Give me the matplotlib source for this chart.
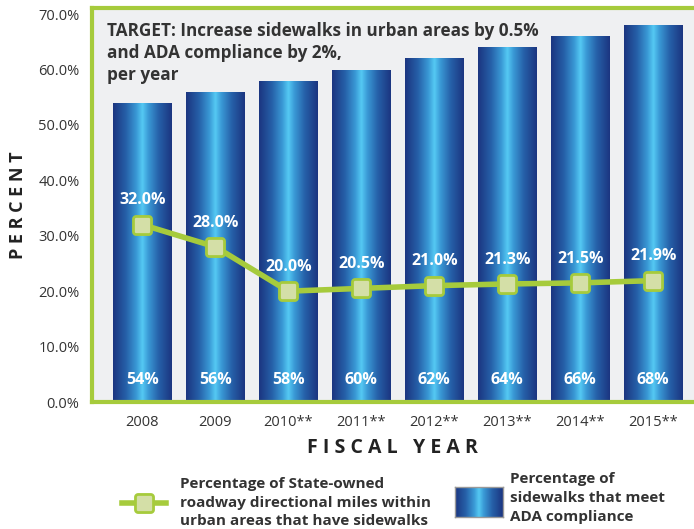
import numpy as np
import matplotlib.pyplot as plt
from matplotlib.colors import LinearSegmentedColormap
from matplotlib.lines import Line2D
from matplotlib.path import Path

# ---- data ----
years = ["2008", "2009", "2010**", "2011**", "2012**", "2013**", "2014**", "2015**"]
ada_compliance = [54, 56, 58, 60, 62, 64, 66, 68]
urban_sidewalks = [32.0, 28.0, 20.0, 20.5, 21.0, 21.3, 21.5, 21.9]
ytick_vals = [0, 10, 20, 30, 40, 50, 60, 70]
ytick_labels = ["0.0%", "10.0%", "20.0%", "30.0%", "40.0%", "50.0%", "60.0%", "70.0%"]

FONT = "Open Sans"
GREEN = "#A6CB3C"
TXT = "#333333"

cmap = LinearSegmentedColormap.from_list(
    "barg",
    [(0.0, "#1B3580"), (0.22, "#2660A8"), (0.40, "#3A9AD6"), (0.50, "#55C9F3"),
     (0.60, "#3A9AD6"), (0.78, "#2660A8"), (1.0, "#1B3580")])
grad = np.linspace(0, 1, 256).reshape(1, -1)

# rounded-square marker
def rounded_square(r=0.3, n=8):
    pts = []
    corners = [(1 - r, 1 - r, 0), (-1 + r, 1 - r, 90), (-1 + r, -1 + r, 180), (1 - r, -1 + r, 270)]
    for cx, cy, a0 in corners:
        for t in np.linspace(np.radians(a0), np.radians(a0 + 90), n):
            pts.append((cx + r * np.cos(t), cy + r * np.sin(t)))
    pts.append(pts[0])
    return Path(pts, closed=True)

RSQ = rounded_square()

W, H = 694, 529
fig = plt.figure(figsize=(W / 100, H / 100), dpi=100)
fig.patch.set_facecolor("white")

def fx(px):
    return px / W

def fy(py):
    return 1 - py / H

ax = fig.add_axes([fx(92), fy(402), fx(694 - 92), (402 - 8) / H])
ax.set_facecolor("#EFF0F2")

x = np.arange(len(years))
bars = ax.bar(x, ada_compliance, width=0.8, color="none", zorder=2)
for b in bars:
    x0, w, h = b.get_x(), b.get_width(), b.get_height()
    im = ax.imshow(grad, cmap=cmap, aspect="auto", extent=(x0, x0 + w, 0, h),
                   zorder=2, interpolation="bilinear")
    im.set_clip_path(b)
    ax.text(b.get_x() + w / 2, 4, f"{h:d}%", ha="center", va="center",
            color="white", fontsize=11.5, fontweight="bold", family=FONT, zorder=5)

ax.plot(x, urban_sidewalks, color=GREEN, lw=4, marker=RSQ, ms=13,
        mfc="#D4DFA7", mec=GREEN, mew=2, zorder=4, solid_capstyle="round")
for xi, v in zip(x, urban_sidewalks):
    ax.annotate(f"{v:.1f}%", (xi, v), xytext=(0, 17.5), textcoords="offset points",
                ha="center", va="center", color="white", fontsize=11.5,
                fontweight="bold", family=FONT, zorder=5)

ax.set_xlim(-0.69, 7.56)
ax.set_ylim(0, 71.1)
ax.set_yticks(ytick_vals)
ax.set_yticklabels(ytick_labels)
ax.set_xticks(x)
ax.set_xticklabels(years)
ax.tick_params(length=0)
ax.tick_params(axis="y", pad=9, labelsize=10.5, labelcolor=TXT)
ax.tick_params(axis="x", pad=9, labelsize=10.5, labelcolor=TXT)
for lab in ax.get_xticklabels() + ax.get_yticklabels():
    lab.set_family(FONT)
for s in ["left", "top", "bottom"]:
    ax.spines[s].set_color(GREEN)
    ax.spines[s].set_linewidth(3)
ax.spines["right"].set_visible(False)

# title
title_lines = ["TARGET: Increase sidewalks in urban areas by 0.5%",
               "and ADA compliance by 2%,",
               "per year"]
for i, t in enumerate(title_lines):
    fig.text(fx(107), fy(31 + 22 * i), t, ha="left", va="center", fontsize=12.3,
             fontweight="bold", color=TXT, family=FONT, zorder=6)

# axis titles
fig.text(fx(18), fy(205), "P E R C E N T", rotation=90, ha="center", va="center",
         fontsize=13, fontweight="bold", color="#222222", family=FONT)
fig.text(fx(392), fy(448), "F I S C A L   Y E A R", ha="center", va="center",
         fontsize=14, fontweight="bold", color="#222222", family=FONT)

# legend
fig.add_artist(Line2D([fx(122), fx(166)], [fy(503), fy(503)], color=GREEN, lw=4,
                      transform=fig.transFigure))
fig.add_artist(Line2D([fx(144)], [fy(503)], marker=RSQ, ms=13, mfc="#D4DFA7",
                      mec=GREEN, mew=2, transform=fig.transFigure))
leg1 = ["Percentage of State-owned",
        "roadway directional miles within",
        "urban areas that have sidewalks"]
for i, t in enumerate(leg1):
    fig.text(fx(180), fy(484 + 18.5 * i), t, ha="left", va="center", fontsize=11,
             fontweight="bold", color=TXT, family=FONT)
lax = fig.add_axes([fx(455), fy(517), fx(503 - 455), (517 - 487) / H])
lax.imshow(grad, cmap=cmap, aspect="auto", interpolation="bilinear")
lax.set_xticks([])
lax.set_yticks([])
for s in lax.spines.values():
    s.set_color("#999999")
    s.set_linewidth(1)
leg2 = ["Percentage of",
        "sidewalks that meet",
        "ADA compliance"]
for i, t in enumerate(leg2):
    fig.text(fx(510), fy(479 + 19 * i), t, ha="left", va="center", fontsize=11,
             fontweight="bold", color=TXT, family=FONT)

fig.savefig("out.png", dpi=100)
